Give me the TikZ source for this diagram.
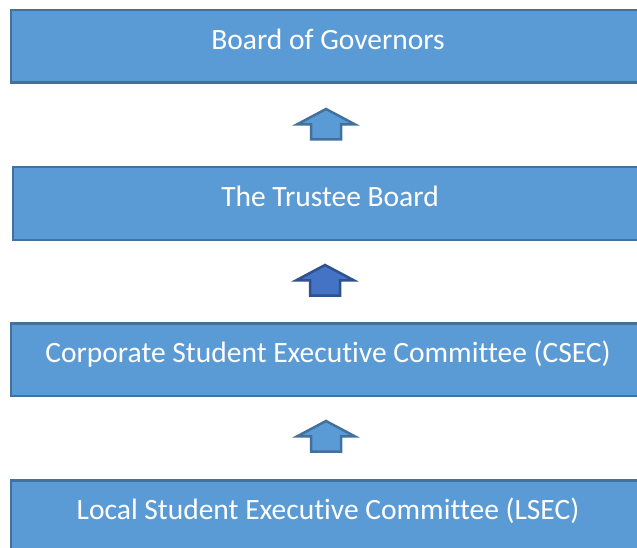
\documentclass[tikz,border=0pt]{standalone}
\usepackage{fontspec}
\setmainfont{Carlito}[Ligatures={NoCommon}]
\usepackage{xcolor}
\usepackage{tikz}
\usetikzlibrary{positioning}
\usetikzlibrary{shapes.arrows}
\definecolor{boxblue}{HTML}{5B9BD5}
\definecolor{boxedge}{HTML}{41719C}
\definecolor{darkblue}{HTML}{4472C4}
\definecolor{darkedge}{HTML}{2F528F}
\tikzset{
	levelbox/.style={rectangle, draw=boxedge, fill=boxblue, line width=2.5pt, minimum width=634pt, minimum height=72.5pt, inner sep=0pt, text=white, font=\fontsize{29.5}{34}\selectfont, text height=20pt, text depth=14pt},
	uparrow/.style={single arrow, draw=boxedge, fill=boxblue, line width=2.5pt, rotate=90, anchor=tail, minimum height=30.5pt, inner xsep=0pt, inner ysep=13.75pt, single arrow head extend=14pt, single arrow tip angle=124},
	uparrowdark/.style={uparrow, draw=darkedge, fill=darkblue}
}

\begin{document}
\begin{tikzpicture}[x=1pt, y=-1pt]
		\useasboundingbox (0,0) rectangle (637,548);
		\clip (0,0) rectangle (637,548);
		
		\node[levelbox] at (328,46.5) (gov)     {Board of Governors};
		\node[levelbox] at (330,203.5) (trustee)     {The Trustee Board};
		\node[levelbox] at (328,359.5) (csec)     {Corporate Student Executive Committee (CSEC)};
		\node[levelbox] at (328,516.5) (lsec)     {Local Student Executive Committee (LSEC)};
		
		%Arrows
		\node[uparrow] at (326,140.75) (up1) {};
		\node[uparrowdark] at (325,296.75) (up2) {};
		\node[uparrow] at (326,452.75) (up3) {};
		
	\end{tikzpicture}
\end{document}
